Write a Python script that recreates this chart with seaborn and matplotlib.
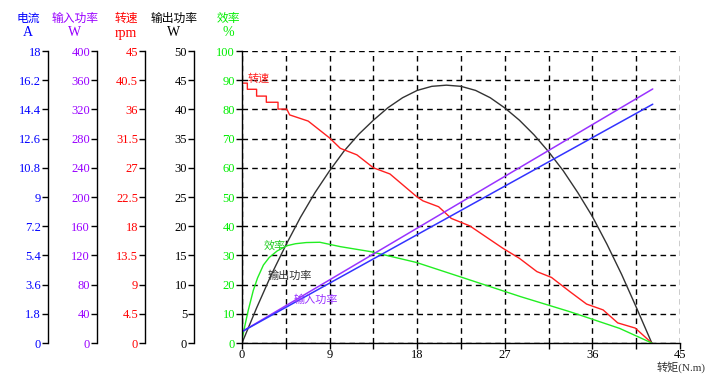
import numpy as np
import pandas as pd
import matplotlib
matplotlib.use('Agg')
import matplotlib.pyplot as plt
import seaborn as sns

# torque (N.m) on x, each series in its own unit
speed_t = [0, 0.55, 0.55, 1.5, 1.5, 2.5, 2.5, 3.7, 3.7, 4.6, 4.9, 6.8, 9.0, 10.1, 11.8, 13.5, 15.2,
           17.95, 18.6, 20.2, 21.5, 23.4, 26.8, 28.5, 30.3, 31.8, 33.7, 35.4, 37.1, 38.6, 40.4, 42.1]
speed_rpm = [40.05, 40.05, 39.1, 39.1, 38.05, 38.05, 37.1, 37.1, 36.05, 36.05, 35.15, 34.2, 31.6, 30.0,
             29.0, 27.0, 26.05, 22.55, 21.9, 21.0, 19.2, 18.05, 14.6, 13.05, 11.0, 10.1, 7.9, 6.0, 5.1,
             3.1, 2.3, 0]

eff_t = [0, 0.3, 0.65, 1.16, 1.6, 2.2, 2.8, 3.6, 4.6, 5.5, 6.6, 8.0, 10.1, 13.2, 17.9, 23.4, 28.6,
         33.7, 38.8, 42.1]
eff_pct = [1, 6.0, 11.3, 18, 22.3, 26.7, 29.3, 31.5, 33.3, 34.0, 34.4, 34.5, 33.0, 31.3, 27.6, 21.6,
           15.9, 10.7, 5.0, 0]

pout_t = [0, 1.5, 3, 4.5, 6, 7.5, 9, 10.5, 12, 13.5, 15, 16.5, 18, 19.5, 21, 22.5, 24, 25.5, 27,
          28.5, 30, 31.5, 33, 34.5, 36, 37.5, 39, 40.5, 42.1]
pout_w = [0, 6.0, 11.65, 16.75, 21.5, 25.75, 29.5, 32.9, 35.75, 38.15, 40.3, 42.0, 43.25, 43.95,
          44.15, 43.95, 43.25, 42.0, 40.25, 38.15, 35.65, 32.75, 29.5, 25.75, 21.65, 16.9, 11.75,
          6.15, 0]

pin_t = [0, 42.2]
pin_w = [15.6, 348]

cur_t = [0, 42.2]
cur_a = [0.70, 14.72]

# scales of the left axes
scales = [('电流', 'A', 18, '#0000FF', [0, 1.8, 3.6, 5.4, 7.2, 9, 10.8, 12.6, 14.4, 16.2, 18]),
          ('输入功率', 'W', 400, '#9900FF', list(range(0, 401, 40))),
          ('转速', 'rpm', 45, '#FF0000', [0, 4.5, 9, 13.5, 18, 22.5, 27, 31.5, 36, 40.5, 45]),
          ('输出功率', 'W', 50, '#000000', list(range(0, 51, 5))),
          ('效率', '%', 100, '#00EE00', list(range(0, 101, 10)))]

sns.set_style('ticks')
plt.rcParams['font.family'] = ['Liberation Serif', 'Noto Sans CJK SC']
plt.rcParams['font.size'] = 9

W, H = 723, 381
fig = plt.figure(figsize=(W / 100, H / 100), dpi=100)
x0, x1, y0, y1 = 242, 680, 343, 51
ax = fig.add_axes([x0 / W, 1 - y0 / H, (x1 - x0) / W, (y0 - y1) / H])
ax.set_facecolor('white')

ax.set_xlim(0, 45)
ax.set_ylim(0, 100)
ax.set_xticks(np.arange(0, 46, 9))
ax.set_xticks(np.arange(0, 46, 4.5), minor=True)
ax.set_yticks(np.arange(0, 101, 10))
ax.grid(True, which='both', color='black', linestyle=(0, (4, 3)), linewidth=1)
for s in ['top', 'right']:
    ax.spines[s].set_visible(False)
for s in ['left', 'bottom']:
    ax.spines[s].set_color('black')
    ax.spines[s].set_linewidth(1)
ax.tick_params(axis='both', which='both', direction='out', length=4, width=1, color='black', pad=1)
ax.tick_params(axis='y', labelcolor='#00EE00')
ax.tick_params(axis='x', labelcolor='black', pad=0)

def pct(vals, full):
    return [v / full * 100 for v in vals]

line_kw = dict(ax=ax, sort=False, estimator=None, errorbar=None)
sns.lineplot(x=pout_t, y=pct(pout_w, 50), color='#333333', linewidth=1, **line_kw)
sns.lineplot(x=speed_t, y=pct(speed_rpm, 45), color='#FF2020', linewidth=1, **line_kw)
sns.lineplot(x=eff_t, y=eff_pct, color='#22EE22', linewidth=1, **line_kw)
sns.lineplot(x=pin_t, y=pct(pin_w, 400), color='#9933FF', linewidth=1.1, **line_kw)
sns.lineplot(x=cur_t, y=pct(cur_a, 18), color='#3333FF', linewidth=1.1, **line_kw)
ax.set_xlabel('')
ax.set_ylabel('')

ax.text(0.6, 90.5, '转速', color='#FF2020', fontsize=8, va='center', ha='left')
ax.text(2.2, 33.5, '效率', color='#22CC22', fontsize=8, va='center', ha='left')
ax.text(2.6, 23, '输出功率', color='#333333', fontsize=8, va='center', ha='left')
ax.text(5.3, 15, '输入功率', color='#9933FF', fontsize=8, va='center', ha='left')

# extra left scales
spine_px = [48, 97, 145, 194]
for (name, unit, full, col, ticks), px in zip(scales[:4], spine_px):
    tw = ax.twinx()
    tw.spines['left'].set_position(('axes', (px - x0) / (x1 - x0)))
    tw.spines['left'].set_visible(True)
    tw.spines['left'].set_color('black')
    tw.spines['left'].set_linewidth(1)
    for s in ['top', 'right', 'bottom']:
        tw.spines[s].set_visible(False)
    tw.yaxis.set_ticks_position('left')
    tw.set_ylim(0, full)
    tw.set_yticks(ticks)
    tw.set_yticklabels([('%g' % v) for v in ticks])
    tw.tick_params(axis='y', direction='out', length=4, width=1, color='black', labelcolor=col, pad=1)
    tw.grid(False)

# column headers
head_x = [28, 75, 126, 174, 228]
for (name, unit, full, col, ticks), hx in zip(scales, head_x):
    fig.text(hx / W, 1 - 19 / H, name, color=col, fontsize=8.5, ha='center', va='center')
    fig.text(hx / W, 1 - 33 / H, unit, color=col, fontsize=10, ha='center', va='center')

fig.text(681 / W, 1 - 367 / H, '转矩(N.m)', color='#333333', fontsize=8, ha='center', va='center')

fig.savefig('out.png', dpi=100, facecolor='white')
